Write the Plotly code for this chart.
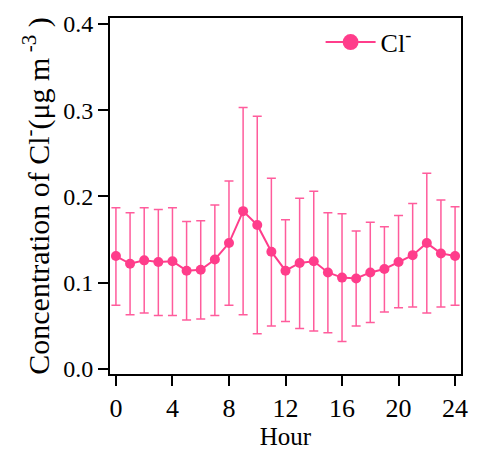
import plotly.graph_objects as go

# Hourly chloride concentration (mean with upper/lower spread)
hours = list(range(25))
cl_mean = [0.131, 0.122, 0.126, 0.124, 0.125, 0.114, 0.115, 0.127, 0.146, 0.183,
           0.167, 0.136, 0.114, 0.123, 0.125, 0.112, 0.106, 0.105, 0.112, 0.116,
           0.124, 0.132, 0.146, 0.134, 0.131]
cl_upper = [0.187, 0.181, 0.187, 0.185, 0.187, 0.171, 0.172, 0.190, 0.218, 0.303,
            0.293, 0.221, 0.173, 0.198, 0.206, 0.181, 0.180, 0.160, 0.170, 0.165,
            0.178, 0.192, 0.227, 0.196, 0.188]
cl_lower = [0.074, 0.063, 0.065, 0.062, 0.062, 0.057, 0.058, 0.062, 0.074, 0.063,
            0.041, 0.050, 0.055, 0.047, 0.044, 0.042, 0.032, 0.050, 0.054, 0.066,
            0.071, 0.072, 0.065, 0.072, 0.074]
x_ticks = [0, 4, 8, 12, 16, 20, 24]
y_ticks = [0.0, 0.1, 0.2, 0.3, 0.4]
y_tick_text = ["0.0", "0.1", "0.2", "0.3", "0.4"]

pink = "#ff3d8b"
err_pink = "#ff5c9c"
serif = "Liberation Serif"

err_plus = [u - m for u, m in zip(cl_upper, cl_mean)]
err_minus = [m - l for m, l in zip(cl_mean, cl_lower)]

fig = go.Figure()
fig.add_trace(go.Scatter(
    x=hours, y=cl_mean, mode="lines+markers",
    line=dict(color=pink, width=2),
    marker=dict(color=pink, size=10),
    error_y=dict(type="data", symmetric=False, array=err_plus, arrayminus=err_minus,
                 color=err_pink, thickness=1.5, width=4.5),
    showlegend=False,
))
# legend entry with a larger symbol
fig.add_trace(go.Scatter(
    x=[None], y=[None], mode="lines+markers", name="Cl<sup>-</sup>",
    line=dict(color=pink, width=2),
    marker=dict(color=pink, size=17),
))

axis_common = dict(
    showline=True, linecolor="black", linewidth=2, mirror=True,
    ticks="outside", ticklen=10, tickwidth=2, tickcolor="black",
    showgrid=False, zeroline=False,
)

fig.update_layout(
    width=479, height=455,
    margin=dict(l=110, r=11, t=14, b=77),
    plot_bgcolor="white", paper_bgcolor="white",
    font=dict(family=serif, color="black"),
    xaxis=dict(range=[-0.42, 24.42], tickvals=x_ticks,
               tickfont=dict(family=serif, size=26, color="black"),
               title=dict(text="Hour", font=dict(family=serif, size=25), standoff=3),
               **axis_common),
    yaxis=dict(range=[-0.0057, 0.4068], tickvals=y_ticks, ticktext=y_tick_text,
               tickfont=dict(family=serif, size=24, color="black"),
               title=dict(text="Concentration of Cl<sup>-</sup>(μg m<sup> -3</sup> )",
                          font=dict(family=serif, size=30), standoff=5),
               **axis_common),
    legend=dict(x=0.60, y=0.998, xanchor="left", yanchor="top", itemwidth=50,
                bgcolor="rgba(0,0,0,0)", font=dict(family=serif, size=26)),
)

fig.write_html("out.html")
